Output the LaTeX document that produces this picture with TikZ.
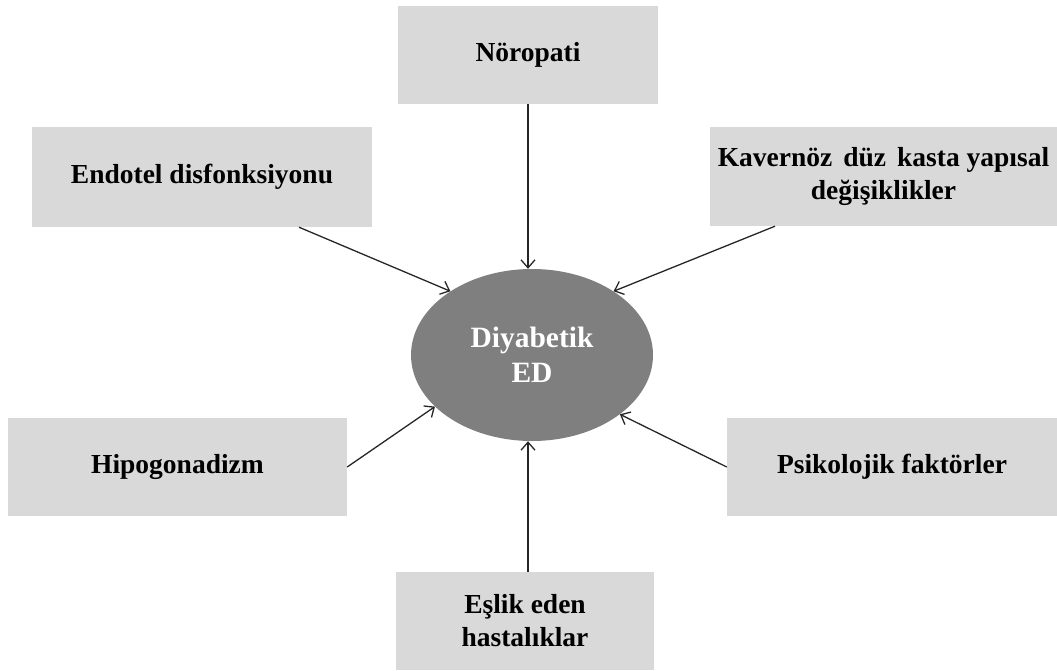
\documentclass[tikz,border=0pt]{standalone}
\usepackage{fontspec}
\setmainfont{Liberation Serif}
\usetikzlibrary{arrows.meta,shapes.geometric}
\definecolor{boxgray}{HTML}{D9D9D9}
\definecolor{ellgray}{HTML}{7F7F7F}
\tikzset{
  box/.style={rectangle, fill=boxgray, draw=none, align=center, inner sep=0pt,
    font=\bfseries\fontsize{27.5}{33}\selectfont, text=black},
  ell/.style={ellipse, fill=ellgray, draw=none, align=center, inner sep=0pt,
    minimum width=242pt, minimum height=172pt,
    font=\bfseries\fontsize{29.5}{35}\selectfont, text=white},
  arr/.style={-{Straight Barb[length=8pt,width=14pt]}, line width=1.3pt, draw=black!85}
}
\begin{document}
\begin{tikzpicture}[x=1pt,y=-1pt]
\path[use as bounding box] (0,0) rectangle (1057,670);
\node[ell] (ed) at (532,355) {Diyabetik\\ED};
\node[box, minimum width=260pt, minimum height=98pt] (nor) at (528,55) {Nöropati};
\node[box, minimum width=340pt, minimum height=100pt] (endo) at (202,177) {Endotel disfonksiyonu};
\node[box, minimum width=347pt, minimum height=99pt] (kav) at (883.5,176.5) {Kavernöz\hspace{0.4em}düz\hspace{0.4em}kasta yapısal\\değişiklikler};
\node[box, minimum width=339pt, minimum height=98pt] (hipo) at (177.5,467) {Hipogonadizm};
\node[box, minimum width=330pt, minimum height=98pt] (psi) at (892,467) {Psikolojik faktörler};
\node[box, minimum width=258pt, minimum height=98pt] (esl) at (525,621) {Eşlik eden\\hastalıklar};
\draw[arr] (nor.south) -- (nor.south |- ed.north);
\draw[arr] ([xshift=97pt]endo.south) -- (ed.142);
\draw[arr] ([xshift=-108.5pt]kav.south) -- (ed.38);
\draw[arr] (hipo.east) -- (ed.208);
\draw[arr] (psi.west) -- (ed.326);
\draw[arr] ([xshift=3pt]esl.north) coordinate (eslt) -- (eslt |- ed.south);
\end{tikzpicture}
\end{document}
